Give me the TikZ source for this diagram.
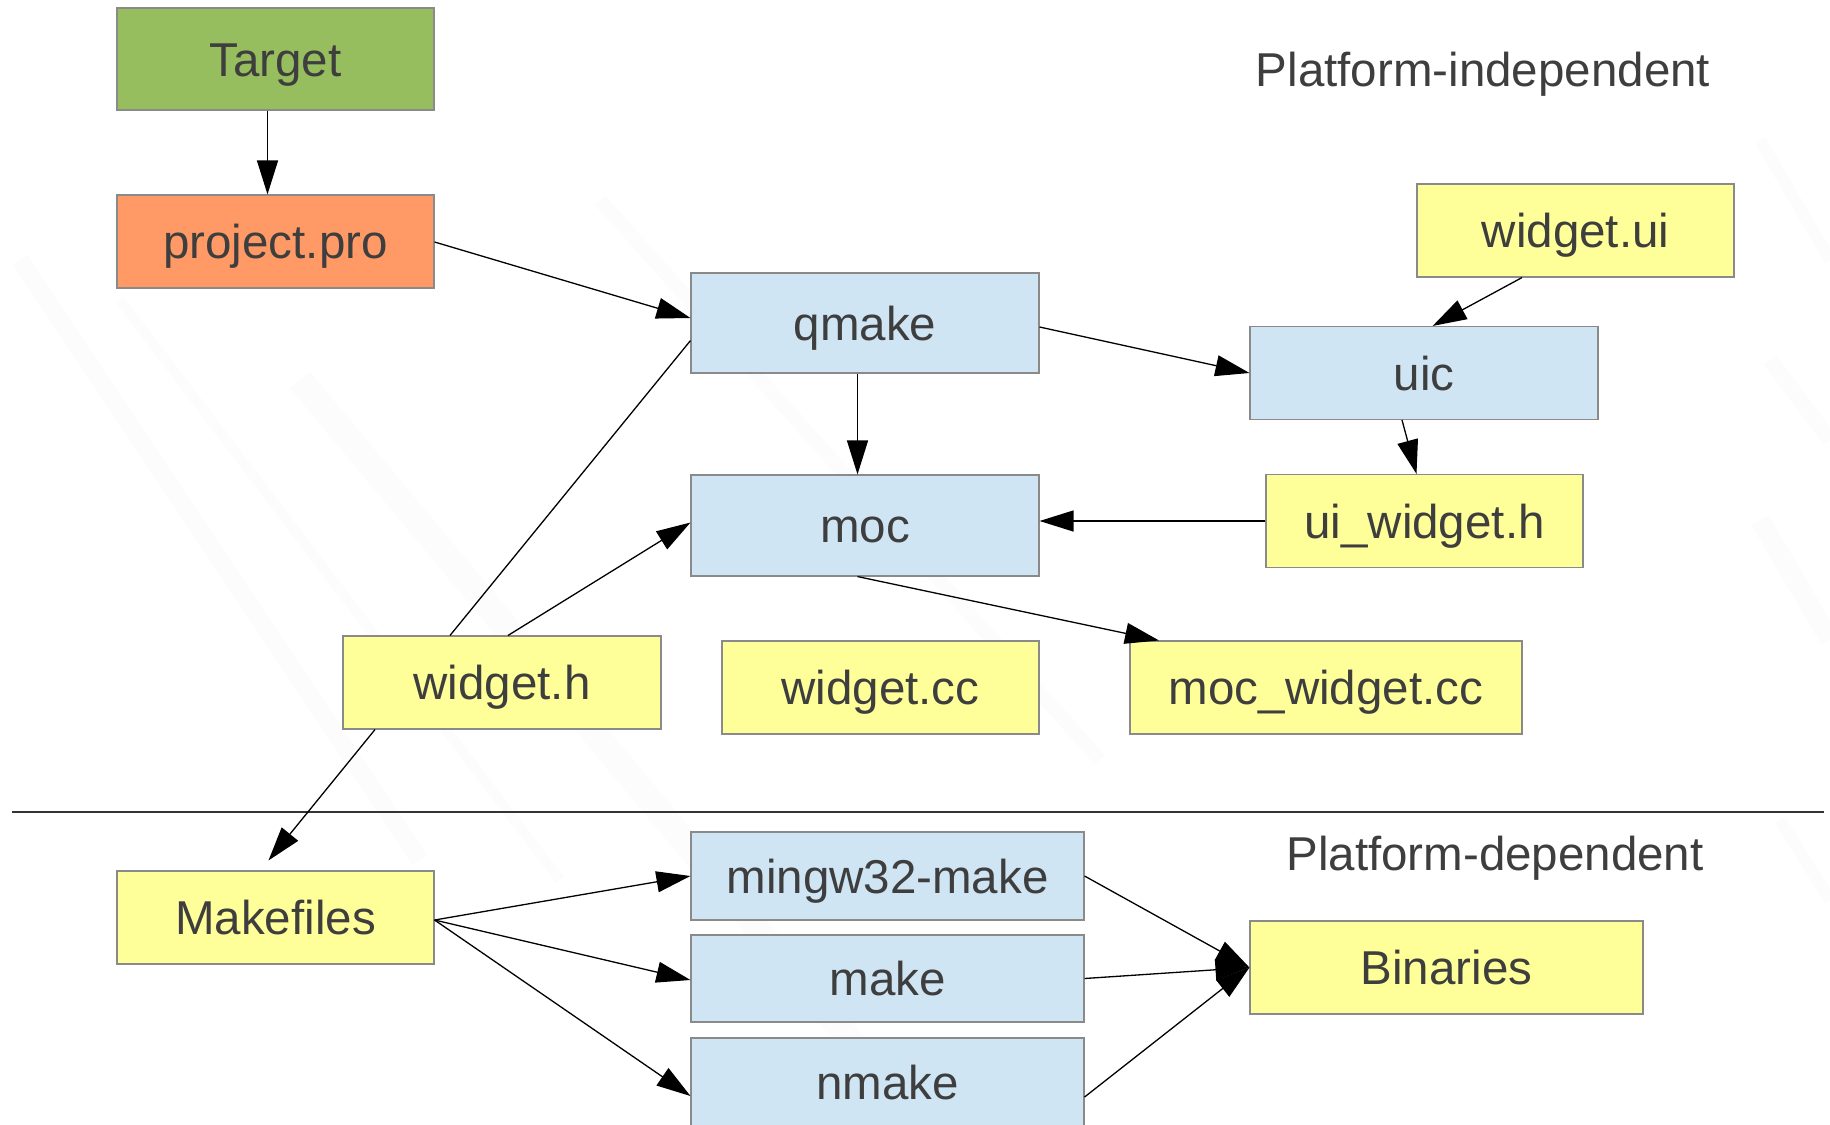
\documentclass[tikz,border=0pt]{standalone}
\usepackage{fontspec}
\setmainfont{Liberation Sans}
\usetikzlibrary{arrows.meta}
\definecolor{txtgray}{HTML}{3E3E3E}
\definecolor{boxline}{HTML}{8A8A8A}
\definecolor{tgtgreen}{HTML}{97BE5E}
\definecolor{proorange}{HTML}{FF9966}
\definecolor{toolblue}{HTML}{CFE5F3}
\definecolor{fileyellow}{HTML}{FFFF99}
\tikzset{
  box/.style={draw=boxline, line width=1.1pt, inner sep=0pt,
    font=\fontsize{47.5}{50}\selectfont, text=txtgray,
    text height=34pt, text depth=0pt},
  target/.style={box, fill=tgtgreen},
  project/.style={box, fill=proorange},
  tool/.style={box, fill=toolblue},
  file/.style={box, fill=fileyellow},
  heading/.style={font=\fontsize{47.5}{50}\selectfont, text=txtgray, anchor=base, inner sep=0pt},
  flow/.style={line width=1.3pt, -{Triangle[length=34pt,width=21pt]}},
  plain/.style={line width=1.3pt},
  streak/.style={draw=black, opacity=0.012}
}
\begin{document}
\begin{tikzpicture}[x=1pt, y=-1pt]
  % canvas
  \fill[white] (0,0) rectangle (1830,1124);
  \useasboundingbox (0,0) rectangle (1830,1124);
  % faint brushed texture
  \begin{scope}
    \clip (0,0) rectangle (1830,1124);
    \draw[streak, line width=18pt] (20,260) -- (420,860);
    \draw[streak, line width=10pt] (120,300) -- (560,880);
    \draw[streak, line width=26pt] (300,380) -- (900,1100);
    \draw[streak, line width=14pt] (600,200) -- (1100,760);
    \draw[streak, line width=12pt] (1760,140) -- (1830,260);
    \draw[streak, line width=16pt] (1770,360) -- (1830,440);
    \draw[streak, line width=20pt] (1760,520) -- (1830,640);
    \draw[streak, line width=12pt] (1780,820) -- (1830,900);
  \end{scope}

  % nodes
  \node[target,  minimum width=317pt, minimum height=102pt] (tgt)  at (275.5,59)   {Target};
  \node[project, minimum width=317pt, minimum height=93pt]  (pro)  at (275.5,241.5) {project.pro};
  \node[tool,    minimum width=348pt, minimum height=100pt] (qmk)  at (865,323)    {qmake};
  \node[tool,    minimum width=348pt, minimum height=93pt]  (uic)  at (1424,373)   {uic};
  \node[file,    minimum width=317pt, minimum height=93pt]  (wui)  at (1575.5,230.5) {widget.ui};
  \node[tool,    minimum width=348pt, minimum height=101pt] (moc)  at (865,525.5)  {moc};
  \node[file,    minimum width=317pt, minimum height=93pt]  (uiw)  at (1424.5,521) {ui\_widget.h};
  \node[file,    minimum width=318pt, minimum height=93pt]  (wh)   at (502,682.5)  {widget.h};
  \node[file,    minimum width=317pt, minimum height=93pt]  (wcc)  at (880.5,687.5) {widget.cc};
  \node[file,    minimum width=392pt, minimum height=93pt]  (mwcc) at (1326,687.5)  {moc\_widget.cc};
  \node[file,    minimum width=317pt, minimum height=93pt]  (mkf)  at (275.5,917.5) {Makefiles};
  \node[tool,    minimum width=393pt, minimum height=88pt]  (mgw)  at (887.5,876)  {mingw32-make};
  \node[tool,    minimum width=393pt, minimum height=87pt]  (mk)   at (887.5,978.5) {make};
  \node[tool,    minimum width=393pt, minimum height=88pt]  (nmk)  at (887.5,1082) {nmake};
  \node[file,    minimum width=393pt, minimum height=93pt]  (bin)  at (1446.5,967.5) {Binaries};

  % section headings and divider
  \node[heading] (indep) at (1483,86)  {Platform-independent};
  \node[heading] (dep)   at (1495,870) {Platform-dependent};
  \coordinate (divL) at (12,812);
  \coordinate (divR) at (1824,812);
  \draw[line width=1.5pt, draw=black!80] (divL) -- (divR);

  % platform-independent flow
  \draw[flow] ([xshift=-8pt]tgt.south) -- ([xshift=-8pt]pro.north);
  \draw[flow] ([yshift=-0.5pt]pro.east) -- ([yshift=5pt]qmk.west);
  \draw[flow] ([yshift=-4pt]qmk.east) -- (uic.west);
  \draw[flow] ([xshift=-53.5pt]wui.south) -- ([xshift=8.6pt]uic.north);
  \draw[flow] ([xshift=-22pt]uic.south) -- ([xshift=-8pt]uiw.north);
  \draw[flow] (uiw.west) -- (uiw.west -| moc.east);
  \draw[flow] ([xshift=-7.5pt]qmk.south) -- ([xshift=-7.5pt]moc.north);
  \draw[flow] ([xshift=-7.5pt]moc.south) -- ([xshift=-167pt]mwcc.north);
  \draw[plain] ([xshift=-52pt]wh.north) -- ([yshift=-17.6pt]qmk.west);
  \draw[flow] ([xshift=6pt]wh.north) -- ([yshift=3pt]moc.west);
  \draw[flow] ([xshift=-127pt]wh.south) -- ([xshift=-7pt,yshift=10pt]mkf.north);

  % platform-dependent flow
  \draw[flow] ([yshift=-2.5pt]mkf.east) -- (mgw.west);
  \draw[flow] ([yshift=-2.5pt]mkf.east) -- ([yshift=-1.5pt]mk.west);
  \draw[flow] ([yshift=-2.5pt]mkf.east) -- ([yshift=-14pt]nmk.west);
  \draw[flow] (mgw.east) -- (bin.west);
  \draw[flow] (mk.east) -- (bin.west);
  \draw[flow] ([yshift=-15pt]nmk.east) -- (bin.west);
\end{tikzpicture}
\end{document}
